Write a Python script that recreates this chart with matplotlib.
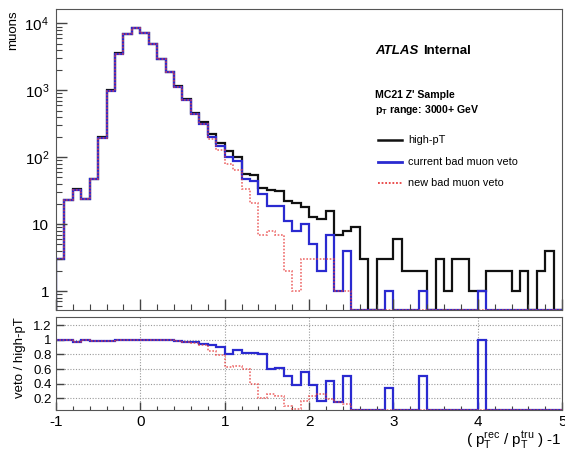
import numpy as np
import matplotlib
matplotlib.use("Agg")
import matplotlib.pyplot as plt
from matplotlib.ticker import FixedLocator, FuncFormatter, MultipleLocator, LogLocator, NullFormatter

plt.rcParams['font.family'] = ['Liberation Sans', 'DejaVu Sans']
plt.rcParams['mathtext.fontset'] = 'custom'
plt.rcParams['mathtext.rm'] = 'Liberation Sans'
plt.rcParams['mathtext.it'] = 'Liberation Sans:italic'
plt.rcParams['mathtext.bf'] = 'Liberation Sans:bold'

# bin edges: 60 bins of 0.1 from -1 to 5
x_lo, x_hi, n_bins = -1.0, 5.0, 60
edges = np.linspace(x_lo, x_hi, n_bins + 1)

# counts per bin
high_pt = [3, 23, 33, 24, 48, 200, 1000, 3560, 6900, 8500,
           7300, 5000, 2950, 1900, 1150, 750, 460, 335, 220, 163,
           125, 102, 57, 54, 35, 32, 31, 22, 21, 18,
           13, 12, 16, 7, 8, 9, 3, 0, 3, 3,
           6, 2, 2, 2, 0, 3, 1, 3, 3, 1,
           1, 2, 2, 2, 1, 2, 0, 2, 4, 0]
current_veto = [3, 23, 32, 24, 47, 196, 990, 3540, 6880, 8480,
                7290, 4990, 2940, 1890, 1130, 730, 445, 318, 204, 146,
                100, 88, 47, 44, 28, 19, 19, 11, 8, 10,
                5, 2, 7, 1, 4, 0, 0, 0, 0, 1,
                0, 0, 0, 1, 0, 0, 0, 0, 0, 0,
                1, 0, 0, 0, 0, 0, 0, 0, 0, 0]
new_veto = [3, 23, 32, 24, 47, 196, 990, 3540, 6880, 8480,
            7290, 4990, 2940, 1890, 1130, 727, 440, 310, 187, 130,
            78, 65, 34, 21, 7, 8, 7, 2, 1, 3,
            3, 3, 3, 1, 1, 0, 0, 0, 0, 0,
            0, 0, 0, 0, 0, 0, 0, 0, 0, 0,
            0, 0, 0, 0, 0, 0, 0, 0, 0, 0]

labels = ["high-pT", "current bad muon veto", "new bad muon veto"]

black = np.array(high_pt, float)
blue = np.array(current_veto, float)
red = np.array(new_veto, float)
r_blue = np.divide(blue, black, out=np.zeros_like(black), where=black > 0)
r_red = np.divide(red, black, out=np.zeros_like(black), where=black > 0)

c_black = '#111111'
c_blue = '#2a2ad0'
c_red = '#e84040'
red_ls = (0, (1.0, 1.0))

fig = plt.figure(figsize=(5.65, 4.5), dpi=100)
ax1 = fig.add_axes([0.099, 0.311, 0.896, 0.668])
ax2 = fig.add_axes([0.099, 0.090, 0.896, 0.206])

# ---------- top panel ----------
ymin, ymax = 0.52, 16200
ax1.set_yscale('log')
ax1.stairs(np.clip(black, ymin, None), edges, baseline=ymin, color=c_black, lw=1.6)
ax1.stairs(np.clip(blue, ymin, None), edges, baseline=ymin, color=c_blue, lw=1.6)
ax1.stairs(np.clip(red, ymin, None), edges, baseline=ymin, color=c_red, lw=1.2,
           ls=red_ls, alpha=0.75)
ax1.set_xlim(x_lo, x_hi)
ax1.set_ylim(ymin, ymax)

def logfmt(v, pos):
    if 0.99 <= v <= 1.01:
        return '1'
    if 9.9 < v < 10.1:
        return '10'
    e = int(round(np.log10(v)))
    return r'$10^{%d}$' % e

ax1.yaxis.set_major_locator(FixedLocator([1, 10, 100, 1000, 10000]))
ax1.yaxis.set_major_formatter(FuncFormatter(logfmt))
ax1.yaxis.set_minor_locator(LogLocator(base=10, subs=np.arange(2, 10)))
ax1.yaxis.set_minor_formatter(NullFormatter())
ax1.xaxis.set_major_locator(MultipleLocator(1))
ax1.xaxis.set_minor_locator(MultipleLocator(0.2))
ax1.tick_params(axis='x', labelbottom=False)
ax1.tick_params(which='both', direction='in', top=False, right=False, color='#444444')
ax1.tick_params(which='major', length=8, width=1)
ax1.tick_params(which='minor', length=4, width=0.8)
ax1.tick_params(axis='y', labelsize=11, pad=5)
for sp in ax1.spines.values():
    sp.set_color('#555555')

fig.text(0.024, 0.978, 'muons', rotation=90, ha='center', va='top', fontsize=9.5)

# labels/legend in top panel
fig.text(0.664, 0.887, 'ATLAS', fontsize=9.5, fontweight='bold', style='italic', va='center')
fig.text(0.749, 0.887, 'Internal', fontsize=9.5, fontweight='bold', va='center')
fig.text(0.664, 0.790, "MC21 Z' Sample", fontsize=7.6, fontweight='bold', va='center')
fig.text(0.664, 0.755, r'$\mathbf{p}_{\mathbf{T}}$ range: 3000+ GeV', fontsize=7.6,
         fontweight='bold', va='center')
leg_y = [0.688, 0.641, 0.594]
styles = [dict(color=c_black, lw=1.8), dict(color=c_blue, lw=2.0),
          dict(color=c_red, lw=1.3, ls=red_ls)]
for yy, lab, st in zip(leg_y, labels, styles):
    fig.add_artist(plt.Line2D([0.669, 0.712], [yy, yy], transform=fig.transFigure, **st))
    fig.text(0.722, yy, lab, fontsize=7.8, va='center')

# ---------- ratio panel ----------
rmin, rmax = 0.044, 1.317
ax2.stairs(np.clip(r_blue, rmin, None), edges, baseline=None, color=c_blue, lw=1.6)
ax2.stairs(np.clip(r_red, rmin, None), edges, baseline=None, color=c_red, lw=1.2,
           ls=red_ls, alpha=0.75)
ax2.set_xlim(x_lo, x_hi)
ax2.set_ylim(rmin, rmax)
ax2.yaxis.set_major_locator(FixedLocator([0.2, 0.4, 0.6, 0.8, 1.0, 1.2]))
ax2.yaxis.set_major_formatter(FuncFormatter(lambda v, p: '%g' % round(v, 1)))
ax2.xaxis.set_major_locator(MultipleLocator(1))
ax2.xaxis.set_minor_locator(MultipleLocator(0.2))
ax2.xaxis.set_major_formatter(FuncFormatter(lambda v, p: '%d' % round(v)))
ax2.grid(True, which='major', ls=(0, (1, 1.5)), color='#9a9a9a', lw=0.8)
ax2.set_axisbelow(True)
ax2.tick_params(which='both', direction='in', top=False, right=False, color='#444444')
ax2.tick_params(which='major', length=6, width=1)
ax2.tick_params(which='minor', length=3, width=0.8)
ax2.tick_params(axis='x', labelsize=11, pad=4)
ax2.tick_params(axis='y', labelsize=9.5, pad=3)
for sp in ax2.spines.values():
    sp.set_color('#555555')

fig.text(0.036, 0.296, 'veto / high-pT', rotation=90, ha='center', va='top', fontsize=9.5)
fig.text(0.995, 0.012, r'( $\mathrm{p}_{\mathrm{T}}^{\mathrm{rec}}$ / $\mathrm{p}_{\mathrm{T}}^{\mathrm{tru}}$ ) -1',
         ha='right', va='baseline', fontsize=11)

fig.savefig('out.png', dpi=100)
